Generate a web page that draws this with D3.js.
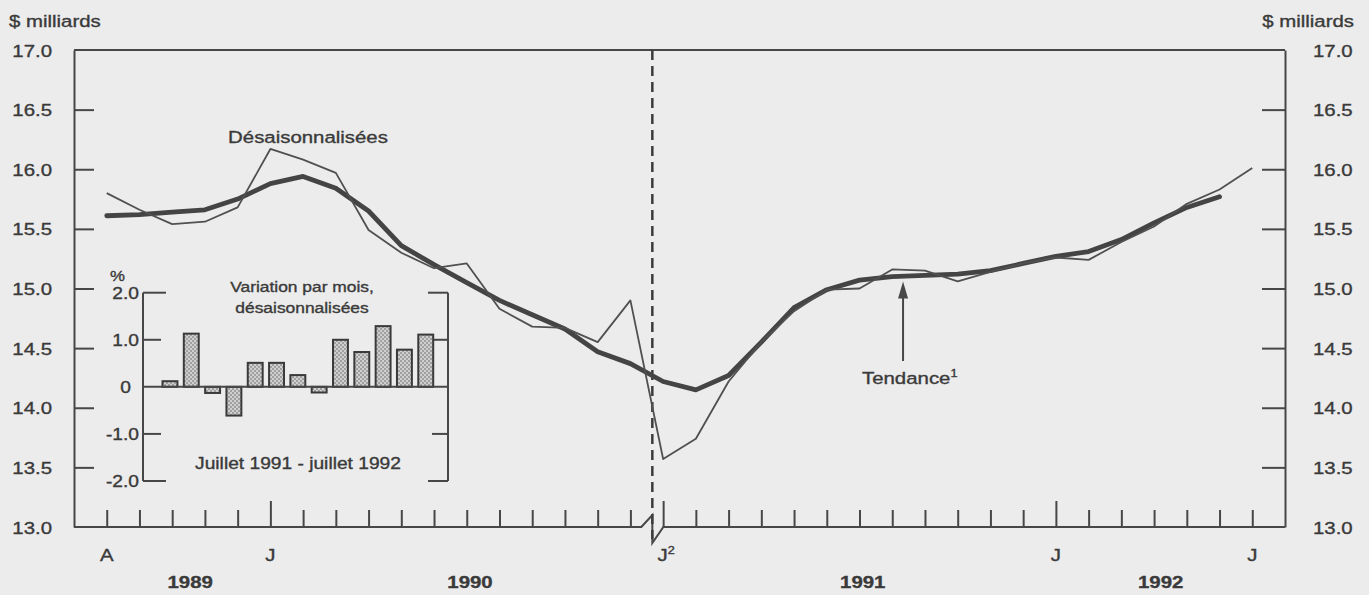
<!DOCTYPE html>
<html><head><meta charset="utf-8">
<script src="https://cdn.jsdelivr.net/npm/d3@7"></script>
<style>
html,body{margin:0;padding:0;background:#ececec;}
svg{display:block;font-family:"Liberation Sans",Arial,Helvetica,sans-serif;}
svg text{stroke:#3a3a3a;stroke-width:0.35px;}
</style></head>
<body>
<svg id="c" width="1369" height="595"></svg>
<script>
// ---------- DATA ----------
const months = ["1989-07","1989-08","1989-09","1989-10","1989-11","1989-12",
 "1990-01","1990-02","1990-03","1990-04","1990-05","1990-06","1990-07","1990-08","1990-09","1990-10","1990-11","1990-12",
 "1991-01","1991-02","1991-03","1991-04","1991-05","1991-06","1991-07","1991-08","1991-09","1991-10","1991-11","1991-12",
 "1992-01","1992-02","1992-03","1992-04","1992-05","1992-06","1992-07","1992-08"];
// Désaisonnalisées: Aug 1989 .. Jul 1992
const desaisMonths = months.slice(1, 37);
const desais = [15.80,15.66,15.54,15.56,15.68,16.17,16.08,15.97,15.49,15.30,15.17,15.21,14.83,14.68,14.67,14.55,14.90,
 13.57,13.74,14.22,14.55,14.81,14.99,15.00,15.16,15.15,15.06,15.14,15.21,15.26,15.24,15.39,15.52,15.71,15.83,16.01];
// Tendance: Aug 1989 .. Jun 1992
const trendMonths = months.slice(1, 36);
const tendance = [15.61,15.62,15.64,15.66,15.75,15.88,15.94,15.84,15.65,15.36,15.20,15.05,14.90,14.78,14.66,14.47,14.37,
 14.22,14.15,14.27,14.55,14.84,14.99,15.07,15.10,15.11,15.12,15.15,15.21,15.27,15.31,15.41,15.55,15.68,15.77];
const yTicks = [13.0,13.5,14.0,14.5,15.0,15.5,16.0,16.5,17.0];
const monthTickIdx = [1,6,18,30,36];
const monthTickTxt = ["A","J","J","J","J"];
const monthTickSup = ["","","2","",""];
const tallTickIdx = [6,18,30];
const yearLabels = ["1989","1990","1991","1992"];
const yearPos = [3.55,12.1,24.1,33.2];
const breakIdx = 17.67;
const arrowIdx = 25.33;

// Inset: variation par mois, juillet 1991 - juillet 1992
const insetMonths = ["1991-07","1991-08","1991-09","1991-10","1991-11","1991-12","1992-01","1992-02","1992-03","1992-04","1992-05","1992-06","1992-07"];
const insetValues = [0.12,1.13,-0.13,-0.61,0.51,0.51,0.25,-0.12,1.0,0.74,1.29,0.79,1.11];
const insetTicks = [-2.0,-1.0,0,1.0,2.0];
const insetTickTxt = ["-2.0","-1.0","0","1.0","2.0"];

// ---------- STYLE ----------
const INK = "#474747", TXT = "#3a3a3a", SX = 1.2;
const svg = d3.select("#c");
svg.append("rect").attr("width",1369).attr("height",595).attr("fill","#ececec");

function txt(g, x, y, s, o = {}) {
  const t = g.append("text")
    .attr("transform", `translate(${x},${y}) scale(${SX},1)`)
    .attr("text-anchor", o.anchor || "start")
    .attr("font-size", o.size || 17)
    .attr("font-weight", o.weight || "normal")
    .attr("fill", TXT);
  t.append("tspan").text(s);
  if (o.sup) t.append("tspan").attr("font-size", (o.size||17)*0.62).attr("dy", -7).text(o.sup);
  return t;
}

// ---------- SCALES ----------
const L = 74, R = 1285, T = 50, B = 527;
const x = d3.scalePoint().domain(months).range([L, R]);
const step = x.step();
const xi = i => L + i * step;
const y = d3.scaleLinear().domain([13, 17]).range([B, T]);

// ---------- FRAME / AXES ----------
const g = svg.append("g");
g.append("line").attr("x1",L).attr("x2",R).attr("y1",T).attr("y2",T).attr("stroke",INK).attr("stroke-width",2);

const fmt = d3.format(".1f");
const la = g.append("g").attr("transform",`translate(${L},0)`)
  .call(d3.axisLeft(y).tickValues(yTicks).tickFormat(fmt).tickSize(-20).tickSizeOuter(0).tickPadding(22));
const ra = g.append("g").attr("transform",`translate(${R},0)`)
  .call(d3.axisRight(y).tickValues(yTicks).tickFormat(fmt).tickSize(-23).tickSizeOuter(0).tickPadding(28));
[la, ra].forEach((a, k) => {
  a.select(".domain").attr("stroke",INK).attr("stroke-width",2);
  a.selectAll(".tick line").attr("stroke",INK).attr("stroke-width",2)
    .attr("display", d => (d === 13 || d === 17) ? "none" : null);
  a.selectAll(".tick text").each(function() {
    const t = d3.select(this);
    const xx = +t.attr("x");
    t.attr("x", null).attr("dy", null)
     .attr("transform", `translate(${xx},6) scale(${SX},1)`)
     .attr("font-size", 17).attr("fill", TXT)
     .attr("font-family", '"Liberation Sans",Arial,sans-serif');
  });
});

// bottom ticks via axis
const ba = g.append("g").attr("transform",`translate(0,${B})`)
  .call(d3.axisBottom(x).tickValues(months.slice(1,37)).tickSize(-17).tickFormat(""));
ba.select(".domain").remove();
ba.selectAll(".tick line").attr("stroke",INK).attr("stroke-width",2)
  .attr("y2", d => tallTickIdx.includes(months.indexOf(d)) ? -26 : -17);
// bottom line with break
const bx1 = xi(breakIdx) - 11, bx2 = xi(breakIdx), bx3 = xi(breakIdx) + 11;
g.append("path")
  .attr("d", `M${L},${B}H${bx1}L${bx2},${B-12}V${B+16}L${bx3},${B}H${R}`)
  .attr("fill","none").attr("stroke",INK).attr("stroke-width",2).attr("stroke-linejoin","miter");
// dashed break line
g.append("line").attr("x1",bx2).attr("x2",bx2).attr("y1",T).attr("y2",B+12)
  .attr("stroke","#3c3c3c").attr("stroke-width",2.5).attr("stroke-dasharray","10,6");

// month labels & year labels
monthTickIdx.forEach((m, k) => {
  txt(g, xi(m) + (monthTickSup[k] ? 3 : 0), 561, monthTickTxt[k], {anchor:"middle", sup: monthTickSup[k] || null});
});
yearLabels.forEach((s, k) => txt(g, xi(yearPos[k]), 588, s, {anchor:"middle", weight:"bold"}));

// unit labels
txt(g, 9, 27, "$ milliards");
txt(g, 1354, 27, "$ milliards", {anchor:"end"});

// ---------- LINES ----------
const line = d3.line().x(d => x(d[0])).y(d => y(d[1]));
g.append("path").datum(d3.zip(trendMonths, tendance)).attr("d", line)
  .attr("fill","none").attr("stroke","#444").attr("stroke-width",4.8)
  .attr("stroke-linejoin","round").attr("stroke-linecap","round");
g.append("path").datum(d3.zip(desaisMonths, desais)).attr("d", line)
  .attr("fill","none").attr("stroke","#505050").attr("stroke-width",1.8)
  .attr("stroke-linejoin","round");

// annotations
txt(g, 308, 143, "Désaisonnalisées", {anchor:"middle"});
txt(g, 862, 384, "Tendance", {sup:"1"});
const ax = xi(arrowIdx), tipY = y(15.10) + 5;
g.append("line").attr("x1",ax).attr("x2",ax).attr("y1",361).attr("y2",tipY+14)
  .attr("stroke",INK).attr("stroke-width",2);
g.append("path").attr("d",`M${ax},${tipY}L${ax-5},${tipY+17}L${ax+5},${tipY+17}Z`).attr("fill",INK);

// ---------- INSET ----------
const defs = svg.append("defs");
const pat = defs.append("pattern").attr("id","stip").attr("patternUnits","userSpaceOnUse")
  .attr("width",4).attr("height",4);
pat.append("rect").attr("width",4).attr("height",4).attr("fill","#cfcfcf");
pat.append("circle").attr("cx",1).attr("cy",1).attr("r",0.9).attr("fill","#8a8a8a");
pat.append("circle").attr("cx",3).attr("cy",3).attr("r",0.9).attr("fill","#8a8a8a");

const IL = 143, IR = 448;
const ix = d3.scaleBand().domain(insetMonths).range([159.3, 436.4]).paddingInner(0.3).paddingOuter(0.15);
const iy = d3.scaleLinear().domain([-2, 2]).range([481, 292.7]);
const ig = svg.append("g");
ig.append("line").attr("x1",IL).attr("x2",IL).attr("y1",iy(2)).attr("y2",iy(-2)).attr("stroke",INK).attr("stroke-width",2);
ig.append("line").attr("x1",IR).attr("x2",IR).attr("y1",iy(2)).attr("y2",iy(-2)).attr("stroke",INK).attr("stroke-width",2);
insetTicks.forEach((v, k) => {
  const big = Math.abs(v) === 2;
  if (v !== 0) {
    ig.append("line").attr("x1",IL).attr("x2",IL + (big ? 23 : 18)).attr("y1",iy(v)).attr("y2",iy(v)).attr("stroke",INK).attr("stroke-width",2);
    ig.append("line").attr("x1",IR).attr("x2",IR - (big ? 20 : 16)).attr("y1",iy(v)).attr("y2",iy(v)).attr("stroke",INK).attr("stroke-width",2);
  }
  txt(ig, v === 0 ? 131 : 139, iy(v) + 6, insetTickTxt[k], {anchor:"end", size:16});
});
ig.selectAll("rect.bar").data(insetValues).join("rect").attr("class","bar")
  .attr("x", (d, i) => ix(insetMonths[i]))
  .attr("width", ix.bandwidth())
  .attr("y", d => iy(Math.max(0, d)))
  .attr("height", d => Math.abs(iy(d) - iy(0)))
  .attr("fill","url(#stip)").attr("stroke","#3a3a3a").attr("stroke-width",2);
ig.append("line").attr("x1",IL).attr("x2",IR).attr("y1",iy(0)).attr("y2",iy(0)).attr("stroke",INK).attr("stroke-width",2);
txt(ig, 110, 281, "%", {size:14});
txt(ig, 302, 292, "Variation par mois,", {anchor:"middle", size:14.5});
txt(ig, 302, 313, "désaisonnalisées", {anchor:"middle", size:14.5});
txt(ig, 298, 469, "Juillet 1991 - juillet 1992", {anchor:"middle", size:16});
</script>
</body></html>
